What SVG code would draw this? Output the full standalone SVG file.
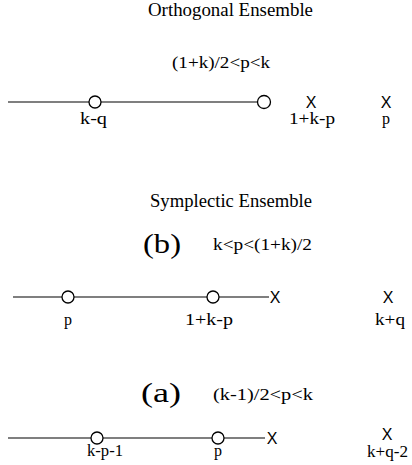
<svg xmlns="http://www.w3.org/2000/svg" width="412" height="465" viewBox="0 0 412 465">
<style>
text{font-family:"Liberation Serif","Times New Roman",serif;fill:#000}
.t{font-size:18px}
.f{font-size:16px}
.s{font-size:16px}
.big{font-size:27px}
.x{font-family:"Liberation Sans",Arial,sans-serif;font-size:16px;text-anchor:middle}
.m{text-anchor:middle}
.ln{stroke:#000;stroke-width:1.2;fill:none}
.c{stroke:#000;stroke-width:1.3;fill:#fff}
</style>
<rect width="412" height="465" fill="#fff"/>
<text class="t" x="148" y="16" textLength="165" lengthAdjust="spacingAndGlyphs">Orthogonal Ensemble</text>
<text class="f" x="172" y="68" textLength="98" lengthAdjust="spacingAndGlyphs">(1+k)/2&lt;p&lt;k</text>
<g id="connectors">
<line class="ln" x1="8" y1="102" x2="89" y2="102"/>
<line class="ln" x1="101" y1="102" x2="257" y2="102"/>
<line class="ln" x1="13" y1="297" x2="62" y2="297"/>
<line class="ln" x1="74" y1="297" x2="207" y2="297"/>
<line class="ln" x1="219" y1="297" x2="269" y2="297"/>
<line class="ln" x1="8" y1="438" x2="91" y2="438"/>
<line class="ln" x1="103" y1="438" x2="212" y2="438"/>
<line class="ln" x1="224" y1="438" x2="265" y2="438"/>
</g>
<g id="o1"><circle class="c" cx="95" cy="102" r="6"/><text class="s" x="80" y="124" textLength="27" lengthAdjust="spacingAndGlyphs">k-q</text></g>
<g id="o2"><circle class="c" cx="264" cy="102" r="6.5"/></g>
<g id="o3"><text class="x" x="311" y="108">X</text><text class="s" x="289" y="124" textLength="46" lengthAdjust="spacingAndGlyphs">1+k-p</text></g>
<g id="o4"><text class="x" x="386" y="108">X</text><text class="s m" x="386" y="124">p</text></g>
<text class="t" x="150" y="207" textLength="162" lengthAdjust="spacingAndGlyphs">Symplectic Ensemble</text>
<text class="big" x="143" y="253" textLength="38" lengthAdjust="spacingAndGlyphs">(b)</text>
<text class="f" x="213" y="250" textLength="99" lengthAdjust="spacingAndGlyphs">k&lt;p&lt;(1+k)/2</text>
<g id="b1"><circle class="c" cx="68" cy="297" r="6"/><text class="s m" x="68" y="325">p</text></g>
<g id="b2"><circle class="c" cx="213" cy="297" r="6"/><text class="s" x="185" y="325" textLength="48" lengthAdjust="spacingAndGlyphs">1+k-p</text></g>
<g id="b3"><text class="x" x="275" y="303">X</text></g>
<g id="b4"><text class="x" x="388" y="303">X</text><text class="s" x="375" y="325" textLength="30" lengthAdjust="spacingAndGlyphs">k+q</text></g>
<text class="big" x="141" y="402" textLength="40" lengthAdjust="spacingAndGlyphs">(a)</text>
<text class="f" x="213" y="400" textLength="100" lengthAdjust="spacingAndGlyphs">(k-1)/2&lt;p&lt;k</text>
<g id="a1"><circle class="c" cx="97" cy="438" r="6"/><text class="s" x="87" y="456" textLength="36" lengthAdjust="spacingAndGlyphs">k-p-1</text></g>
<g id="a2"><circle class="c" cx="218" cy="438" r="6"/><text class="s m" x="218" y="456">p</text></g>
<g id="a3"><text class="x" x="272" y="444">X</text></g>
<g id="a4"><text class="x" x="387" y="440">X</text><text class="s" x="367" y="457" textLength="41" lengthAdjust="spacingAndGlyphs">k+q-2</text></g>
</svg>
